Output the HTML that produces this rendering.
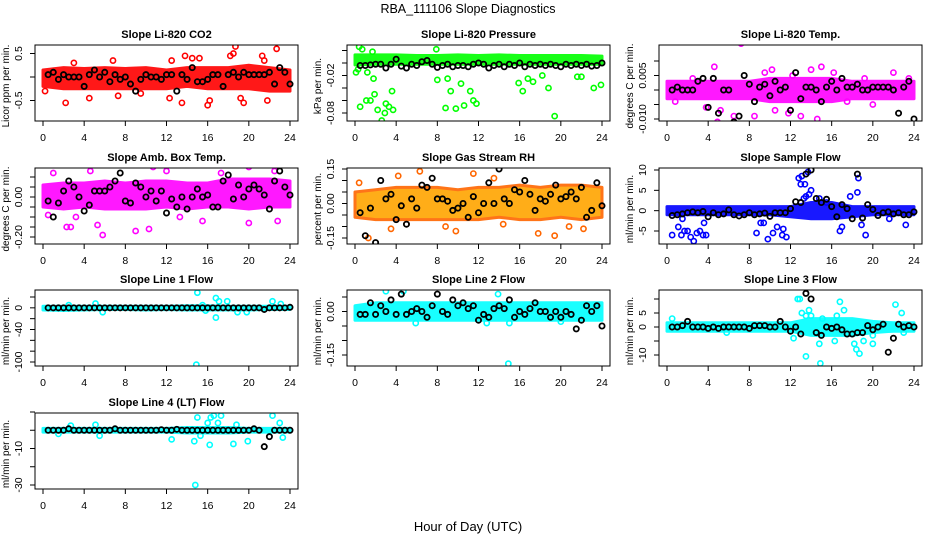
<!DOCTYPE html>
<html><head><meta charset="utf-8"><style>
body{margin:0;background:#fff;}
svg{display:block;font-family:"Liberation Sans",Arial,sans-serif;}
</style></head><body>
<svg id="chart" width="936" height="540" viewBox="0 0 936 540">
<rect x="0" y="0" width="936" height="540" fill="#fff"/>
<text x="468" y="13" text-anchor="middle" font-size="12.5">RBA_111106  Slope Diagnostics</text>
<text x="468" y="531" text-anchor="middle" font-size="13">Hour of Day (UTC)</text>
</svg>
<script>
// shared hours
const bandHours = [0,2,4,6,8,10,12,14,16,18,20,22,24];
const blackHours = [0.5,1,1.5,2,2.5,3,3.5,4,4.5,5,5.5,6,6.5,7,7.5,8,8.5,9,9.5,10,10.5,11,11.5,12,12.5,13,13.5,14,14.5,15,15.5,16,16.5,17,17.5,18,18.5,19,19.5,20,20.5,21,21.5,22,22.5,23,23.5,24];
const xTicks = [0,4,8,12,16,20,24];

// CO2
const co2BandHi = [0.15,0.2,0.18,0.2,0.18,0.2,0.15,0.2,0.2,0.2,0.25,0.2,0.15];
const co2BandLo = [-0.2,-0.25,-0.25,-0.25,-0.25,-0.25,-0.25,-0.2,-0.25,-0.25,-0.25,-0.3,-0.3];
const co2OutHours = [0.2,2.2,3.0,4.5,6.8,7.3,9.5,12.3,12.5,13.5,13.8,14.5,15.2,16.0,16.2,18.2,18.5,18.7,19.2,19.5,21.3,21.8,22.7,23.5,21.5];
const co2OutVals = [-0.3,-0.55,0.3,-0.45,0.35,-0.4,-0.35,-0.45,0.35,-0.55,0.45,0.4,0.4,-0.6,-0.5,0.45,0.5,0.65,-0.45,-0.55,0.45,-0.5,0.6,-1.05,0.35];
const co2Black = [0.05,0.1,-0.05,0.05,0.0,0,0,-0.2,0.05,0.15,0.0,0.1,-0.1,0.05,-0.05,0.0,-0.15,-0.3,-0.05,0.05,0,0.0,-0.05,0.05,0.05,-0.3,0.05,-0.05,0.2,-0.1,-0.1,-0.05,0.05,0.05,-0.2,0.05,0.1,0,0.1,0.05,0.05,0.05,0.05,0.1,-0.15,0.2,0.1,-0.15];

// Pressure
const presBandHi = [0.013,0.013,0.013,0.012,0.012,0.013,0.012,0.013,0.012,0.012,0.012,0.012,0.011];
const presBandLo = [-0.003,-0.002,-0.002,-0.002,-0.002,-0.002,-0.002,-0.002,-0.002,-0.002,-0.002,-0.002,-0.002];
const presOutHours = [0.1,0.3,0.5,0.7,1.2,1.5,1.8,1.9,2.2,2.6,3.0,3.3,3.6,3.7,1.1,2.9,8.0,8.8,9.0,9.3,9.8,10.3,10.6,11.2,11.5,11.8,15.9,16.3,16.8,17.3,18.2,18.8,19.4,21.6,22.0,23.2,23.9,1.7,7.9,0.4];
const presOutVals = [-0.015,-0.01,-0.07,0.022,-0.015,-0.06,-0.025,-0.05,-0.075,-0.092,-0.065,-0.07,-0.045,-0.075,-0.06,-0.08,-0.027,-0.072,-0.025,-0.045,-0.073,-0.033,-0.068,-0.045,-0.06,-0.065,-0.032,-0.045,-0.025,-0.03,-0.02,-0.04,-0.085,-0.022,-0.022,-0.04,-0.035,0.018,0.022,0.026];
const presBlack = [-0.004,-0.004,-0.003,-0.002,-0.002,-0.008,-0.002,0.006,-0.005,-0.008,-0.002,-0.004,0.002,0.004,-0.002,-0.007,-0.004,-0.002,-0.006,-0.004,-0.004,-0.006,-0.002,0.0,-0.002,-0.008,-0.004,-0.002,-0.006,-0.002,-0.004,0.0,-0.006,-0.002,-0.004,-0.002,-0.004,-0.002,-0.004,-0.006,-0.002,-0.004,-0.002,-0.004,-0.002,-0.005,-0.004,0.0];

// Li-820 Temp
const tempBandHi = [0.003,0.003,0.003,0.003,0.003,0.004,0.004,0.004,0.004,0.003,0.003,0.003,0.003];
const tempBandLo = [-0.003,-0.003,-0.003,-0.003,-0.003,-0.004,-0.004,-0.004,-0.004,-0.003,-0.003,-0.003,-0.003];
const tempOutHours = [4.6,7.2,4.9,13.5,15.0,12.2,14.6,16.2,6.5,11.8,9.5,2.5,20.0,22.0,5.2,8.5,3.8,10.5,17.5,19.2,13.0,0.8,23.5,10.2,14.0];
const tempOutVals = [0.008,0.016,-0.011,-0.013,0.008,0.005,-0.01,0.006,-0.009,-0.008,0.006,0.004,-0.005,0.006,-0.007,-0.009,-0.006,-0.007,-0.004,0.004,-0.009,-0.004,0.004,0.007,0.007];
const tempBlack = [0,0.001,0,0,0,0.003,0.004,-0.006,0.004,-0.008,0,0,-0.011,-0.009,0.005,0.002,-0.004,0.001,0.002,-0.002,0.003,0,0.001,-0.007,0.006,-0.003,0.001,0.001,0,-0.004,0.001,0.003,0,0.004,0.001,0.001,0.002,0,0,0.001,0.001,0.001,0.001,0,-0.008,0.001,0.003,-0.01];

// Amb box temp
const ambBandHi = [0.06,0.07,0.07,0.08,0.07,0.08,0.08,0.07,0.07,0.09,0.09,0.09,0.08];
const ambBandLo = [-0.05,-0.06,-0.05,-0.06,-0.06,-0.06,-0.05,-0.06,-0.05,-0.05,-0.06,-0.05,-0.05];
const ambOutHours = [14.6,5.8,5.3,9.0,10.3,2.7,2.3,6.7,7.2,10.7,12.0,19.2,20.0,21.2,22.5,0.5,3.2,15.5,20.0,22.8,1.0,4.6,13.3,17.3];
const ambOutVals = [-0.44,-0.19,-0.14,-0.17,-0.16,-0.15,-0.15,0.18,0.16,0.15,0.13,0.17,0.15,0.16,0.13,-0.09,-0.1,-0.12,-0.13,-0.12,0.12,0.13,-0.1,0.12];
const ambBlack = [-0.02,-0.1,-0.03,0.03,0.08,0.05,0.0,-0.07,-0.04,0.03,0.03,0.03,0.05,0.08,0.12,-0.02,-0.03,0.07,0.05,0.0,0.03,-0.02,0.03,-0.08,-0.01,-0.05,0.0,-0.06,0.0,0.04,0.0,0.01,-0.05,-0.05,0.08,0.11,-0.01,0.06,0.0,0.04,0.06,0.04,0.01,-0.06,0.08,0.13,0.05,0.01];

// Gas stream RH
const rhBandHi = [0.05,0.06,0.07,0.07,0.07,0.06,0.07,0.07,0.08,0.07,0.08,0.08,0.07];
const rhBandLo = [-0.06,-0.07,-0.07,-0.07,-0.07,-0.07,-0.07,-0.06,-0.07,-0.07,-0.06,-0.07,-0.06];
const rhOutHours = [2.2,10.7,8.8,9.8,16.0,6.3,11.5,1.3,22.2,3.5,4.2,19.4,23.8,17.8,13.5,0.4,5.0,14.4,20.8];
const rhOutVals = [0.2,-0.19,-0.1,-0.12,0.18,0.14,0.13,-0.15,-0.11,-0.11,0.12,-0.14,0.17,-0.13,0.11,0.09,-0.09,-0.09,-0.1];
const rhBlack = [-0.04,-0.14,-0.02,-0.17,0.1,0.02,0.04,-0.07,-0.01,-0.09,0.02,-0.02,0.08,0.07,0.11,0.02,0.02,0.01,-0.03,-0.02,0.0,-0.06,0.03,-0.04,0.0,0.09,0.0,0.15,0.02,0.0,0.06,0.05,0.1,0.04,-0.03,0.02,0.01,0.04,0.08,0.02,0.03,0.05,0.02,0.07,-0.06,-0.03,0.09,-0.01];

// Sample flow
const flowBandHi = [1,1,1,1,1,1,1,2,2,1,1,1,1];
const flowBandLo = [-1,-1,-1,-1,-1,-1,-1.5,-2,-2,-1.5,-1,-1,-1];
const flowOutHours = [0.5,1.1,1.4,1.7,2.0,2.3,2.6,2.9,3.2,3.5,3.8,3.6,1.5,8.7,9.1,9.4,9.8,10.3,10.7,11.2,11.6,11.3,12.8,13.0,13.1,13.4,13.7,13.8,14.0,13.5,14.8,15.5,16.8,17.0,17.8,18.5,18.6,18.9,19.3,21.6,23.2,13.3];
const flowOutVals = [-6,-4,-6,-5,-5,-6.5,-7.5,-5.5,-5,-6,-6,-3,-2,-5.5,-3,-3,-7,-5.5,-4,-6,-6.5,-4.5,8,6.5,8.5,6.5,9.5,4,5,3.5,3,2,-5,-4,3.5,4.5,8,-3.5,-6,-2,-3.5,3];
const flowBlack = [-1.2,-1,-0.8,-0.5,-0.3,-0.5,-0.2,-1.5,-0.5,-1,-0.8,0.2,-1,-1.3,-1,-0.5,-1,-0.8,-0.6,-1.4,-0.5,-0.5,-0.5,0.5,2.2,2,9,10,3,2,2.8,1,-1.5,1.5,0.5,-2,9,-1.8,1.5,0.3,-1.2,-0.5,-0.3,-0.8,-0.5,-1,-1,-0.3];

// Line 1
const l1BandHi = [3,3,3,3,3,3,3,4,4,3,3,3,3];
const l1BandLo = [-4,-5,-4,-3,-3,-4,-3,-4,-4,-4,-4,-3,-3];
const l1OutHours = [14.9,15.0,16.8,16.8,17.1,17.9,5.1,5.8,2.5,18.9,19.8,22.3,23.1,15.8,15.5];
const l1OutVals = [-105,28,-18,18,12,12,8,-8,5,-8,-8,12,7,-5,5];
const l1Black = [0,0,0,0,0,0,0,0,0,0,0,0,0,0,0,0,0,0,0,0,0,0,0,0,0,0,0,0,0,0,0,0,0,0,0,0,0,0,0,0,0,0,-3,0,0,0,0,1];

// Line 2
const l2BandHi = [0.02,0.03,0.03,0.03,0.03,0.03,0.03,0.03,0.03,0.03,0.03,0.03,0.03];
const l2BandLo = [-0.03,-0.03,-0.03,-0.03,-0.03,-0.03,-0.03,-0.03,-0.03,-0.03,-0.03,-0.03,-0.03];
const l2OutHours = [14.9,17.1,15.0,15.1,9.8,5.9,12.8,3.0,4.7,20.0,13.9];
const l2OutVals = [-0.18,0.17,-0.04,0.1,0.1,-0.04,-0.04,0.07,0.07,-0.035,0.06];
const l2Black = [-0.01,-0.01,0.03,-0.01,0.02,0.0,0.04,-0.01,0.06,-0.01,0.0,0.01,0.0,-0.02,0.02,0.06,0.0,-0.01,0.04,0.02,0.03,0.01,0.02,-0.03,-0.01,-0.02,0.01,0.02,0.01,0.04,-0.02,0.0,-0.01,0.01,0.03,0.0,0.0,-0.02,0.0,-0.02,0.0,-0.01,-0.06,-0.03,0.02,0.0,0.02,-0.05];

// Line 3
const l3BandHi = [1.5,1.5,1.5,1.5,1.5,1.5,1.5,3,3,3,2,1.5,1.5];
const l3BandLo = [-1.5,-1.5,-1.5,-1.5,-1.5,-1.5,-1.5,-3,-3,-3,-2,-1.5,-1.5];
const l3OutHours = [0.5,12.7,12.9,13.1,13.5,13.8,14.0,14.8,14.9,15.1,16.3,16.5,16.8,17.2,18.2,18.4,18.7,19.1,20.0,20.0,22.2,22.8,23.0,12.3,13.5,5.8];
const l3OutVals = [3,10,10,5,-10.5,6,4,-6,-13,3,-5,4,9,6,-6,-8,-9.5,-5,-6,-3,8,5,-2,-4,4,-2];
const l3Black = [0,0,0.5,2,0,0,0,-0.5,0,-0.5,0,0,0,0,0,-0.5,0.5,0.5,0.5,0,0,2,0,-1.5,0,-2.5,12,10,-2,-3,0,-0.5,0,-1,-2.5,-2.5,-2,-2,0.5,-1,0,1,-9,-4,1,0,0.5,0];

// Line 4
const l4BandHi = [1,1,1,1,1,1,1,1.5,1.5,1.5,1,1,1];
const l4BandLo = [-1,-1,-1,-1,-1,-1,-1,-1.5,-1.5,-1.5,-1,-1,-1];
const l4OutHours = [14.8,15.0,14.7,12.5,16.2,16.3,16.6,17.0,17.3,18.5,18.8,19.9,22.3,23.0,23.3,15.3,16.0,5.1,5.5,2.7,1.5];
const l4OutVals = [-30,7,-6,-5,-8,7,8,4,8,-7.5,3,-6,8,4,-4,-3,4,3,-3,2.5,-2];
const l4Black = [0,0,0,0,0.8,0,0,0,0,0,0,0,0,0.8,0,0,0,0,0,0,0,0,0.3,0,0,0.5,0,0,0,0,0,0,0,0,0,0,0,0,0,0,0.8,0,-9,-3.5,0,0,0,0];

const svg = document.getElementById('chart');
const NS = 'http://www.w3.org/2000/svg';
function mk(tag, attrs, parent){
  const e = document.createElementNS(NS, tag);
  for (const k in attrs) e.setAttribute(k, attrs[k]);
  (parent||svg).appendChild(e);
  return e;
}

const panels = [
 {key:'co2', title:'Slope Li-820 CO2', ylab:'Licor ppm per min.', col:0,row:0, v0:0.5,p0:53.5,v1:-0.5,p1:100.5, ticks:[0.5,0,-0.5], labels:['0.5','','-0.5'], color:'#ff0000', fill:'#ff0000', hi:co2BandHi, lo:co2BandLo, oh:co2OutHours, ov:co2OutVals, bk:co2Black},
 {key:'pressure', title:'Slope Li-820 Pressure', ylab:'kPa per min.', col:1,row:0, v0:0,p0:63,v1:-0.08,p1:113, ticks:[0.02,0,-0.02,-0.04,-0.06,-0.08], labels:['','','-0.02','','','-0.08'], color:'#00ff00', fill:'#00ff00', hi:presBandHi, lo:presBandLo, oh:presOutHours, ov:presOutVals, bk:presBlack},
 {key:'li-temp', title:'Slope Li-820 Temp.', ylab:'degrees C per min.', col:2,row:0, v0:0.01,p0:61,v1:-0.01,p1:119, ticks:[0.01,0.005,0,-0.005,-0.01], labels:['','0.005','','','-0.010'], color:'#ff00ff', fill:'#ff00ff', hi:tempBandHi, lo:tempBandLo, oh:tempOutHours, ov:tempOutVals, bk:tempBlack},
 {key:'amb-temp', title:'Slope Amb. Box Temp.', ylab:'degrees C per min.', col:0,row:1, v0:0.1,p0:177,v1:-0.2,p1:237, ticks:[0.1,0.05,0,-0.05,-0.1,-0.15,-0.2], labels:['','','0.00','','','','-0.20'], color:'#ff00ff', fill:'#ff00ff', hi:ambBandHi, lo:ambBandLo, oh:ambOutHours, ov:ambOutVals, bk:ambBlack},
 {key:'rh', title:'Slope Gas Stream RH', ylab:'percent per min.', col:1,row:1, v0:0.15,p0:169,v1:-0.15,p1:238, ticks:[0.15,0.1,0.05,0,-0.05,-0.1,-0.15], labels:['0.15','','','0.00','','','-0.15'], color:'#ff6600', fill:'#ffa500', hi:rhBandHi, lo:rhBandLo, oh:rhOutHours, ov:rhOutVals, bk:rhBlack},
 {key:'sample-flow', title:'Slope Sample Flow', ylab:'ml/min per min.', col:2,row:1, v0:10,p0:170,v1:-5,p1:231, ticks:[10,5,0,-5], labels:['10','5','0','-5'], color:'#0000ff', fill:'#0000ff', hi:flowBandHi, lo:flowBandLo, oh:flowOutHours, ov:flowOutVals, bk:flowBlack},
 {key:'line1', title:'Slope Line 1 Flow', ylab:'ml/min per min.', col:0,row:2, v0:20,p0:297,v1:-100,p1:362, ticks:[20,0,-20,-40,-60,-80,-100], labels:['','0','','-40','','','-100'], color:'#00ffff', fill:'#00ffff', hi:l1BandHi, lo:l1BandLo, oh:l1OutHours, ov:l1OutVals, bk:l1Black},
 {key:'line2', title:'Slope Line 2 Flow', ylab:'ml/min per min.', col:1,row:2, v0:0.05,p0:297,v1:-0.15,p1:355, ticks:[0.05,0,-0.05,-0.1,-0.15], labels:['','0.00','','','-0.15'], color:'#00ffff', fill:'#00ffff', hi:l2BandHi, lo:l2BandLo, oh:l2OutHours, ov:l2OutVals, bk:l2Black},
 {key:'line3', title:'Slope Line 3 Flow', ylab:'ml/min per min.', col:2,row:2, v0:10,p0:299,v1:-10,p1:355, ticks:[10,5,0,-5,-10], labels:['','5','0','','-10'], color:'#00ffff', fill:'#00ffff', hi:l3BandHi, lo:l3BandLo, oh:l3OutHours, ov:l3OutVals, bk:l3Black},
 {key:'line4', title:'Slope Line 4 (LT) Flow', ylab:'ml/min per min.', col:0,row:3, v0:10,p0:412,v1:-30,p1:485, ticks:[10,0,-10,-20,-30], labels:['','','-10','','-30'], color:'#00ffff', fill:'#00ffff', hi:l4BandHi, lo:l4BandLo, oh:l4OutHours, ov:l4OutVals, bk:l4Black}
];

const boxTops = [45,168,290,413];
const boxLefts = [35,347,659];
const boxW = 263, boxH = 76;

panels.forEach(p => {
  const L = boxLefts[p.col], T = boxTops[p.row], B = T + boxH;
  const x = h => L + 8 + h * (247/24);
  const y = v => p.p0 + (v - p.v0) * (p.p1 - p.p0) / (p.v1 - p.v0);
  const g = mk('g', {});
  
  
  const clipId = 'clip-' + p.key;
  const cp = mk('clipPath', {id: clipId}, g);
  mk('rect', {x:L, y:T, width:boxW, height:boxH}, cp);
  const plot = mk('g', {'clip-path':'url(#'+clipId+')'}, g);
  
  
  // band
  let d = '';
  bandHours.forEach((h,i) => { d += (i?'L':'M') + x(h).toFixed(1) + ' ' + y(p.hi[i]).toFixed(1); });
  for (let i = bandHours.length-1; i >= 0; i--) d += 'L' + x(bandHours[i]).toFixed(1) + ' ' + y(p.lo[i]).toFixed(1);
  const band = mk('path', {d: d+'Z', fill:p.fill, stroke:p.color, 'stroke-width':3, 'stroke-linejoin':'round', opacity:0.9}, plot);
  
  
  // outliers
  p.oh.forEach((h,i) => {
    const c = mk('circle', {cx:x(h), cy:y(p.ov[i]), r:2.6, fill:'none', stroke:p.color, 'stroke-width':1.6}, plot);
    
    
  });
  // black points
  blackHours.forEach((h,i) => {
    const c = mk('circle', {cx:x(h), cy:y(p.bk[i]), r:2.6, fill:'none', stroke:'#000', 'stroke-width':1.8}, plot);
    
    
  });
  // box
  const box = mk('rect', {x:L, y:T, width:boxW, height:boxH, fill:'none', stroke:'#000', 'stroke-width':1}, g);
  
  
  // x axis
  xTicks.forEach(t => {
    mk('line', {x1:x(t), x2:x(t), y1:B, y2:B+5, stroke:'#000'}, g);
    const tx = mk('text', {x:x(t), y:B+20, 'text-anchor':'middle', 'font-size':10.5}, g);
    tx.textContent = t;
    
    
  });
  // y axis
  p.ticks.forEach((t,i) => {
    const yy = y(t);
    mk('line', {x1:L-5, x2:L, y1:yy, y2:yy, stroke:'#000'}, g);
    if (p.labels[i]) {
      const tx = mk('text', {x:L-13, y:yy, 'text-anchor':'middle', 'font-size':10.5, transform:'rotate(-90 '+(L-13)+' '+yy+')'}, g);
      tx.textContent = p.labels[i];
      
      
    }
  });
  const yc = T + boxH/2;
  const yl = mk('text', {x:L-26, y:yc+3, 'text-anchor':'middle', 'font-size':10, transform:'rotate(-90 '+(L-26)+' '+(yc+3)+')'}, g);
  yl.textContent = p.ylab;
  
  
  const ti = mk('text', {x:L+boxW/2, y:T-7, 'text-anchor':'middle', 'font-size':11, 'font-weight':'bold'}, g);
  ti.textContent = p.title;
  
  
});
</script>
</body></html>
